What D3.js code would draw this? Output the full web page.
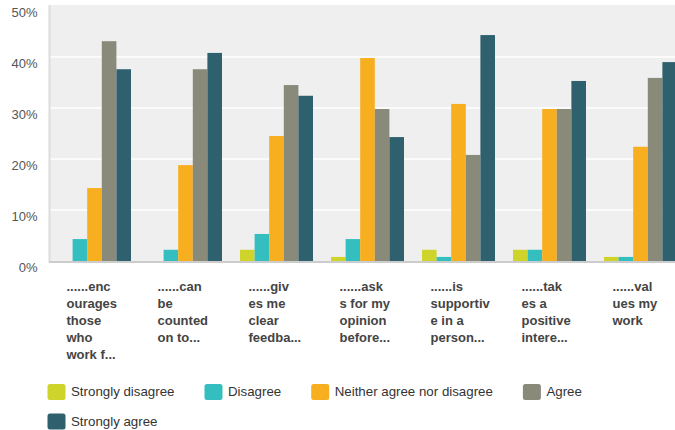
<!DOCTYPE html>
<html>
<head>
<meta charset="utf-8">
<script src="https://cdn.jsdelivr.net/npm/d3@7"></script>
<style>
  html, body { margin: 0; padding: 0; background: #fff; }
  svg { display: block; font-family: Arial, "Liberation Sans", Helvetica, sans-serif; }
</style>
</head>
<body>
<svg id="chart" width="675" height="430"></svg>
<script>
const categories = ["c1", "c2", "c3", "c4", "c5", "c6", "c7"];
const categoryLabels = [
  ["......enc", "ourages", "those", "who", "work f..."],
  ["......can", "be", "counted", "on to..."],
  ["......giv", "es me", "clear", "feedba..."],
  ["......ask", "s for my", "opinion", "before..."],
  ["......is", "supportiv", "e in a", "person..."],
  ["......tak", "es a", "positive", "intere..."],
  ["......val", "ues my", "work"]
];
const seriesNames = ["Strongly disagree", "Disagree", "Neither agree nor disagree", "Agree", "Strongly agree"];
const seriesColors = ["#cfd42a", "#34bec0", "#f7ae1f", "#8a8a7a", "#2e606e"];
const stronglyDisagree = [0, 0, 2.2, 0.8, 2.2, 2.2, 0.8];
const disagree = [4.3, 2.2, 5.3, 4.3, 0.8, 2.2, 0.8];
const neither = [14.3, 18.8, 24.5, 39.8, 30.8, 29.8, 22.4];
const agree = [43.1, 37.6, 34.5, 29.8, 20.8, 29.8, 35.9];
const stronglyAgree = [37.6, 40.8, 32.4, 24.3, 44.3, 35.3, 39.0];
const yTicks = [0, 10, 20, 30, 40, 50];

const seriesValues = [stronglyDisagree, disagree, neither, agree, stronglyAgree];

const svg = d3.select("#chart");
const W = 675;

const x0 = d3.scaleBand().domain(categories).range([49, 686]).paddingInner(0.198).paddingOuter(0.099);
const x1 = d3.scaleBand().domain(seriesNames).range([0, x0.bandwidth()]).padding(0);
const y = d3.scaleLinear().domain([0, 50]).range([261, 6]);

// plot background
svg.append("rect").attr("x", 50).attr("y", 5).attr("width", 640).attr("height", 256).attr("fill", "#efefef");

// grid lines
svg.append("g").selectAll("line").data(yTicks.filter(t => t > 0 && t < 50)).join("line")
  .attr("x1", 50).attr("x2", 690)
  .attr("y1", d => y(d)).attr("y2", d => y(d))
  .attr("stroke", "#ffffff").attr("stroke-width", 1.6);

// left axis line
svg.append("line").attr("x1", 49.5).attr("x2", 49.5).attr("y1", 5).attr("y2", 263)
  .attr("stroke", "#dcdcdc").attr("stroke-width", 2);

// y labels
svg.append("g").selectAll("text").data(yTicks).join("text")
  .attr("x", 37.5).attr("y", d => y(d) + 11)
  .attr("text-anchor", "end")
  .attr("font-size", "13px").attr("fill", "#555")
  .text(d => d + "%");

// bars
const groups = svg.append("g").selectAll("g").data(categories).join("g")
  .attr("transform", c => `translate(${x0(c)},0)`);
groups.selectAll("rect").data((c, i) => seriesNames.map((s, k) => ({ s, k, v: seriesValues[k][i] })))
  .join("rect")
  .attr("x", d => x1(d.s))
  .attr("width", x1.bandwidth())
  .attr("y", d => y(d.v))
  .attr("height", d => y(0) - y(d.v))
  .attr("fill", d => seriesColors[d.k]);

// bottom axis line
svg.append("line").attr("x1", 49).attr("x2", 690).attr("y1", 262).attr("y2", 262)
  .attr("stroke", "#cccccc").attr("stroke-width", 2);

// x labels
const xl = svg.append("g");
categories.forEach((c, i) => {
  const t = xl.append("text")
    .attr("x", x0(c) + x0.bandwidth() / 2 - 28)
    .attr("y", 291)
    .attr("font-size", "13px").attr("font-weight", "bold").attr("fill", "#444");
  categoryLabels[i].forEach((line, j) => {
    t.append("tspan").attr("x", x0(c) + x0.bandwidth() / 2 - 28).attr("dy", j === 0 ? 0 : 17).text(line);
  });
});

// legend (flow layout)
const leg = svg.append("g");
let lx = 47.5, ly = 384;
seriesNames.forEach((s, k) => {
  const g = leg.append("g");
  const txt = g.append("text").attr("font-size", "13.3px").attr("fill", "#333").text(s);
  const len = txt.node().getComputedTextLength();
  if (lx + 23.5 + len > W && lx > 47.5) { lx = 47.5; ly += 29.5; }
  g.insert("rect", "text").attr("x", lx).attr("y", ly).attr("width", 18).attr("height", 16).attr("rx", 2.5)
    .attr("fill", seriesColors[k]);
  txt.attr("x", lx + 23.5).attr("y", ly + 12);
  lx += 23.5 + len + 30;
});
</script>
</body>
</html>
